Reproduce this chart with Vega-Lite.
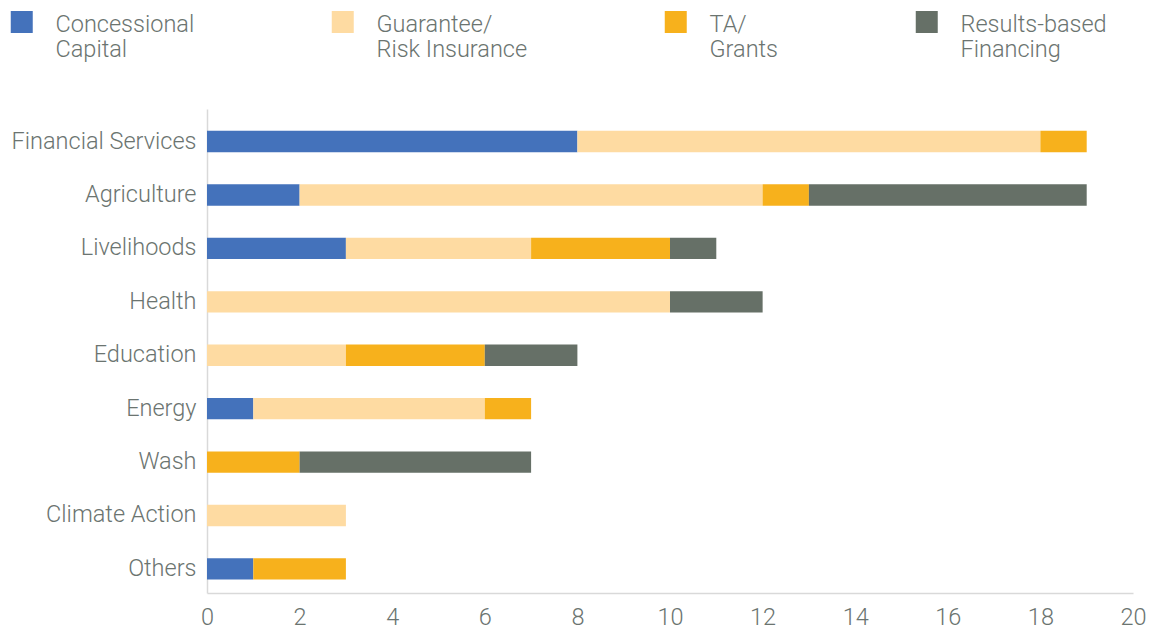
{
  "$schema": "https://vega.github.io/schema/vega-lite/v6.json",
  "width": 926,
  "height": 484,
  "autosize": {"type": "none"},
  "padding": {"left": 207, "top": 109, "right": 31, "bottom": 39},
  "background": "white",
  "config": {
    "view": {"stroke": null},
    "font": "Roboto",
    "axis": {"labelFont": "Roboto", "labelFontWeight": 300, "labelColor": "#6b7470", "labelFontSize": 23.5, "labelLimit": 400, "domainColor": "#d9d9d9", "domainWidth": 1.5, "ticks": false, "grid": false, "title": null},
    "legend": {"labelFont": "Roboto", "labelFontWeight": 300}
  },
  "data": {
    "values": [
      {"sector": "Financial Services", "type": "Concessional Capital", "value": 8, "k": 1},
      {"sector": "Financial Services", "type": "Guarantee/ Risk Insurance", "value": 10, "k": 2},
      {"sector": "Financial Services", "type": "TA/ Grants", "value": 1, "k": 3},
      {"sector": "Agriculture", "type": "Concessional Capital", "value": 2, "k": 1},
      {"sector": "Agriculture", "type": "Guarantee/ Risk Insurance", "value": 10, "k": 2},
      {"sector": "Agriculture", "type": "TA/ Grants", "value": 1, "k": 3},
      {"sector": "Agriculture", "type": "Results-based Financing", "value": 6, "k": 4},
      {"sector": "Livelihoods", "type": "Concessional Capital", "value": 3, "k": 1},
      {"sector": "Livelihoods", "type": "Guarantee/ Risk Insurance", "value": 4, "k": 2},
      {"sector": "Livelihoods", "type": "TA/ Grants", "value": 3, "k": 3},
      {"sector": "Livelihoods", "type": "Results-based Financing", "value": 1, "k": 4},
      {"sector": "Health", "type": "Guarantee/ Risk Insurance", "value": 10, "k": 2},
      {"sector": "Health", "type": "Results-based Financing", "value": 2, "k": 4},
      {"sector": "Education", "type": "Guarantee/ Risk Insurance", "value": 3, "k": 2},
      {"sector": "Education", "type": "TA/ Grants", "value": 3, "k": 3},
      {"sector": "Education", "type": "Results-based Financing", "value": 2, "k": 4},
      {"sector": "Energy", "type": "Concessional Capital", "value": 1, "k": 1},
      {"sector": "Energy", "type": "Guarantee/ Risk Insurance", "value": 5, "k": 2},
      {"sector": "Energy", "type": "TA/ Grants", "value": 1, "k": 3},
      {"sector": "Wash", "type": "TA/ Grants", "value": 2, "k": 3},
      {"sector": "Wash", "type": "Results-based Financing", "value": 5, "k": 4},
      {"sector": "Climate Action", "type": "Guarantee/ Risk Insurance", "value": 3, "k": 2},
      {"sector": "Others", "type": "Concessional Capital", "value": 1, "k": 1},
      {"sector": "Others", "type": "TA/ Grants", "value": 2, "k": 3}
    ]
  },
  "mark": {"type": "bar"},
  "encoding": {
    "y": {
      "field": "sector", "type": "nominal",
      "sort": ["Financial Services", "Agriculture", "Livelihoods", "Health", "Education", "Energy", "Wash", "Climate Action", "Others"],
      "scale": {"paddingInner": 0.6, "paddingOuter": 0.33, "align": 0.62},
      "axis": {"labelPadding": 11}
    },
    "x": {
      "field": "value", "type": "quantitative", "stack": "zero",
      "scale": {"domain": [0, 20], "nice": false},
      "axis": {"values": [0, 2, 4, 6, 8, 10, 12, 14, 16, 18, 20], "labelPadding": 12, "labelFlush": false}
    },
    "order": {"field": "k", "type": "quantitative"},
    "color": {
      "field": "type", "type": "nominal",
      "scale": {
        "domain": ["Concessional Capital", "Guarantee/ Risk Insurance", "TA/ Grants", "Results-based Financing"],
        "range": ["#4472BB", "#FEDBA2", "#F7B11C", "#667067"]
      },
      "legend": {
        "title": null,
        "orient": "none",
        "legendX": -197,
        "legendY": -89,
        "direction": "horizontal",
        "columns": 4,
        "columnPadding": 136,
        "symbolType": "M-1,-1.9H1V0.1H-1Z",
        "symbolSize": 484,
        "symbolStrokeWidth": 0,
        "symbolOpacity": 1,
        "labelOffset": 22,
        "labelFontSize": 23.5,
        "labelColor": "#6b7470",
        "labelBaseline": "alphabetic",
        "labelLineHeight": 27,
        "labelLimit": 400,
        "labelExpr": "datum.label == 'Concessional Capital' ? ['Concessional', 'Capital'] : datum.label == 'Guarantee/ Risk Insurance' ? ['Guarantee/', 'Risk Insurance'] : datum.label == 'TA/ Grants' ? ['TA/', 'Grants'] : ['Results-based', 'Financing']"
      }
    }
  }
}
